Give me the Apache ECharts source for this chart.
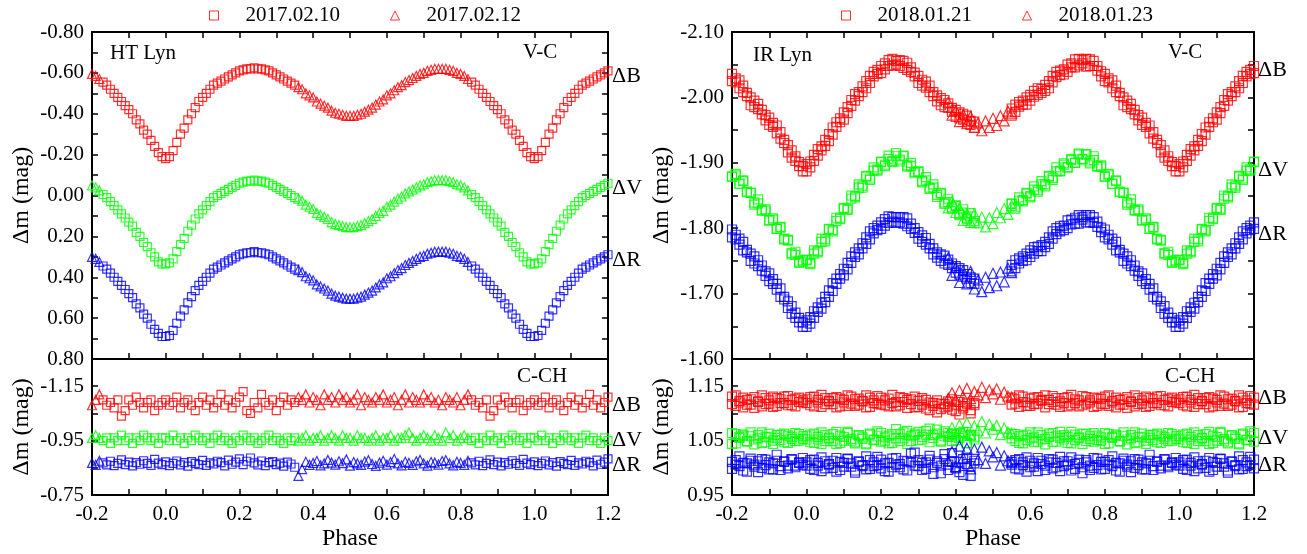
<!DOCTYPE html>
<html>
<head>
<meta charset="utf-8">
<script src="https://cdn.jsdelivr.net/npm/echarts@6/dist/echarts.min.js"></script>
<style>
html,body{margin:0;padding:0;background:#fff;}
#chart{width:1307px;height:554px;}
</style>
</head>
<body>
<div id="chart"></div>
<script>
// ---------------- tick values & labels ----------------
const xTickValues = [-0.2,-0.1,0,0.1,0.2,0.3,0.4,0.5,0.6,0.7,0.8,0.9,1.0,1.1,1.2];
const xLabelValues = [-0.2,0,0.2,0.4,0.6,0.8,1.0,1.2];
const xTickLabels = ['-0.2','0.0','0.2','0.4','0.6','0.8','1.0','1.2'];

const htTopTicks = [-0.8,-0.7,-0.6,-0.5,-0.4,-0.3,-0.2,-0.1,0,0.1,0.2,0.3,0.4,0.5,0.6,0.7,0.8];
const htTopLabelValues = [-0.8,-0.6,-0.4,-0.2,0,0.2,0.4,0.6,0.8];
const htTopLabels = ['-0.80','-0.60','-0.40','-0.20','0.00','0.20','0.40','0.60','0.80'];
const htBotTicks = [-1.25,-1.15,-1.05,-0.95,-0.85,-0.75];
const htBotLabelValues = [-1.15,-0.95,-0.75];
const htBotLabels = ['-1.15','-0.95','-0.75'];

const irTopTicks = [-2.10,-2.05,-2.00,-1.95,-1.90,-1.85,-1.80,-1.75,-1.70,-1.65,-1.60];
const irTopLabelValues = [-2.10,-2.00,-1.90,-1.80,-1.70,-1.60];
const irTopLabels = ['-2.10','-2.00','-1.90','-1.80','-1.70','-1.60'];
const irBotTicks = [0.95,1.00,1.05,1.10,1.15,1.20];
const irBotLabelValues = [0.95,1.05,1.15];
const irBotLabels = ['0.95','1.05','1.15'];

// ---------------- HT Lyn data ----------------
const htNights = ['2017.02.10','2017.02.12'];
const htPhase1 = [0.83,0.84,0.85,0.86,0.87,0.88,0.89,0.90,0.91,0.92,0.93,0.94,0.95,0.96,0.97,0.98,0.99,
 0.00,0.01,0.02,0.03,0.04,0.05,0.06,0.07,0.08,0.09,0.10,0.11,0.12,0.13,0.14,0.15,0.16,0.17,0.18,0.19,
 0.20,0.21,0.22,0.23,0.24,0.25,0.26,0.27,0.28,0.29,0.30,0.31,0.32,0.33,0.34,0.35];
const htB1 = [-0.555,-0.54,-0.52,-0.50,-0.48,-0.46,-0.44,-0.42,-0.40,-0.37,-0.35,-0.32,-0.30,-0.27,-0.24,-0.21,-0.19,
 -0.18,-0.19,-0.22,-0.26,-0.30,-0.33,-0.37,-0.40,-0.43,-0.46,-0.48,-0.50,-0.52,-0.54,-0.55,-0.56,-0.57,-0.58,-0.59,-0.60,
 -0.61,-0.615,-0.62,-0.62,-0.625,-0.62,-0.62,-0.615,-0.61,-0.60,-0.59,-0.58,-0.57,-0.56,-0.55,-0.54];
const htV1 = [-0.005,0.01,0.03,0.05,0.07,0.09,0.11,0.13,0.15,0.18,0.20,0.23,0.25,0.28,0.30,0.325,0.335,
 0.335,0.33,0.31,0.275,0.24,0.21,0.175,0.145,0.115,0.09,0.07,0.05,0.03,0.01,0.0,-0.01,-0.02,-0.03,-0.04,-0.05,
 -0.06,-0.065,-0.07,-0.07,-0.075,-0.07,-0.07,-0.065,-0.06,-0.05,-0.04,-0.03,-0.02,-0.01,0.0,0.01];
const htR1 = [0.345,0.36,0.38,0.40,0.42,0.44,0.46,0.48,0.50,0.53,0.55,0.58,0.60,0.63,0.655,0.675,0.69,
 0.69,0.685,0.66,0.625,0.59,0.56,0.525,0.495,0.465,0.44,0.42,0.40,0.38,0.36,0.35,0.34,0.33,0.32,0.31,0.30,
 0.29,0.285,0.28,0.28,0.275,0.28,0.28,0.285,0.29,0.30,0.31,0.32,0.33,0.34,0.35,0.36];
const htCB1 = [-1.10,-1.08,-1.09,-1.07,-1.10,-1.04,-1.06,-1.10,-1.08,-1.11,-1.09,-1.07,-1.09,-1.10,-1.06,-1.08,-1.09,
 -1.10,-1.08,-1.09,-1.11,-1.07,-1.09,-1.10,-1.08,-1.06,-1.09,-1.11,-1.08,-1.10,-1.07,-1.09,-1.12,-1.08,-1.10,-1.07,-1.09,
 -1.11,-1.13,-1.06,-1.05,-1.09,-1.07,-1.12,-1.09,-1.08,-1.10,-1.06,-1.09,-1.11,-1.08,-1.10,-1.09];
const htCV1 = [-0.95,-0.96,-0.94,-0.96,-0.95,-0.97,-0.95,-0.96,-0.94,-0.96,-0.95,-0.97,-0.96,-0.95,-0.96,-0.94,-0.96,
 -0.96,-0.95,-0.97,-0.95,-0.96,-0.94,-0.96,-0.95,-0.97,-0.96,-0.95,-0.96,-0.94,-0.96,-0.97,-0.95,-0.96,-0.95,-0.94,-0.96,
 -0.95,-0.97,-0.96,-0.95,-0.96,-0.94,-0.95,-0.96,-0.97,-0.95,-0.96,-0.95,-0.94,-0.96,-0.95,-0.96];
const htCR1 = [-0.868,-0.861,-0.874,-0.858,-0.866,-0.879,-0.862,-0.871,-0.857,-0.869,-0.863,-0.876,-0.866,-0.859,-0.881,-0.867,-0.862,
 -0.872,-0.858,-0.866,-0.875,-0.861,-0.869,-0.856,-0.873,-0.866,-0.862,-0.877,-0.859,-0.868,-0.864,-0.874,-0.869,-0.857,-0.878,-0.863,-0.871,
 -0.883,-0.862,-0.874,-0.886,-0.868,-0.861,-0.875,-0.858,-0.869,-0.873,-0.862,-0.867,-0.856,-0.871,-0.864,-0.852];

const htPhase2 = [0.36,0.37,0.38,0.39,0.40,0.41,0.42,0.43,0.44,0.45,0.46,0.47,0.48,0.49,0.50,0.51,0.52,0.53,0.54,0.55,
 0.56,0.57,0.58,0.59,0.60,0.61,0.62,0.63,0.64,0.65,0.66,0.67,0.68,0.69,0.70,0.71,0.72,0.73,0.74,0.75,0.76,0.77,0.78,0.79,0.80,0.81,0.82];
const htB2 = [-0.53,-0.52,-0.50,-0.49,-0.48,-0.46,-0.45,-0.44,-0.43,-0.415,-0.405,-0.40,-0.395,-0.39,-0.39,-0.39,-0.395,-0.40,-0.41,-0.42,
 -0.43,-0.445,-0.46,-0.47,-0.49,-0.50,-0.515,-0.53,-0.54,-0.555,-0.565,-0.575,-0.585,-0.595,-0.60,-0.61,-0.615,-0.62,-0.62,-0.62,
 -0.62,-0.615,-0.61,-0.60,-0.595,-0.585,-0.57];
const htV2 = [0.015,0.025,0.045,0.055,0.065,0.085,0.095,0.105,0.115,0.13,0.14,0.145,0.15,0.155,0.155,0.155,0.15,0.145,0.135,0.125,
 0.115,0.10,0.085,0.075,0.055,0.045,0.03,0.015,0.005,-0.01,-0.02,-0.03,-0.04,-0.05,-0.055,-0.065,-0.07,-0.075,-0.075,-0.075,
 -0.075,-0.07,-0.065,-0.055,-0.05,-0.04,-0.025];
const htR2 = [0.365,0.375,0.395,0.405,0.415,0.435,0.445,0.455,0.465,0.48,0.49,0.495,0.50,0.505,0.505,0.505,0.50,0.495,0.485,0.475,
 0.465,0.45,0.435,0.425,0.405,0.395,0.38,0.365,0.355,0.34,0.33,0.32,0.31,0.30,0.295,0.285,0.28,0.275,0.275,0.275,
 0.275,0.28,0.285,0.295,0.30,0.31,0.325];
const htCB2 = [-1.11,-1.10,-1.12,-1.09,-1.11,-1.10,-1.08,-1.12,-1.10,-1.11,-1.09,-1.12,-1.10,-1.11,-1.09,-1.10,-1.12,-1.08,-1.11,-1.10,
 -1.09,-1.11,-1.10,-1.12,-1.09,-1.10,-1.11,-1.08,-1.10,-1.12,-1.09,-1.11,-1.10,-1.09,-1.12,-1.10,-1.11,-1.09,-1.10,-1.08,
 -1.11,-1.10,-1.09,-1.11,-1.08,-1.10,-1.12];
const htCV2 = [-0.95,-0.96,-0.97,-0.95,-0.96,-0.96,-0.97,-0.95,-0.96,-0.97,-0.96,-0.95,-0.97,-0.96,-0.96,-0.95,-0.97,-0.96,-0.96,-0.95,
 -0.96,-0.97,-0.95,-0.96,-0.96,-0.97,-0.95,-0.96,-0.96,-0.97,-0.98,-0.96,-0.95,-0.96,-0.97,-0.96,-0.95,-0.97,-0.96,-0.95,
 -0.98,-0.96,-0.97,-0.95,-0.96,-0.97,-0.96];
const htCR2 = [-0.82,-0.845,-0.872,-0.861,-0.868,-0.875,-0.859,-0.866,-0.879,-0.869,-0.862,-0.874,-0.867,-0.881,-0.858,-0.871,-0.866,-0.861,-0.873,-0.878,
 -0.864,-0.857,-0.869,-0.876,-0.862,-0.871,-0.882,-0.866,-0.859,-0.872,-0.868,-0.861,-0.874,-0.879,-0.866,-0.858,-0.871,-0.869,-0.862,-0.875,
 -0.878,-0.866,-0.859,-0.872,-0.868,-0.861,-0.876];

// ---------------- IR Lyn data ----------------
const irNights = ['2018.01.21','2018.01.23'];
const irPhase1 = [0.00,0.01,0.02,0.03,0.04,0.05,0.06,0.07,0.08,0.09,0.10,0.11,0.12,0.13,0.14,0.15,0.16,0.17,0.18,0.19,
 0.20,0.21,0.22,0.23,0.24,0.25,0.26,0.27,0.28,0.29,0.30,0.31,0.32,0.33,0.34,0.35,0.36,0.37,0.38,0.39,0.40,0.41,0.42,0.43,0.44,0.45,
 0.55,0.56,0.57,0.58,0.59,0.60,0.61,0.62,0.63,0.64,0.65,0.66,0.67,0.68,0.69,0.70,0.71,0.72,0.73,0.74,0.75,0.76,0.77,0.78,0.79,
 0.80,0.81,0.82,0.83,0.84,0.85,0.86,0.87,0.88,0.89,0.90,0.91,0.92,0.93,0.94,0.95,0.96,0.97,0.98,0.99];
// first cycle of the night
const irB1 = [-1.887,-1.902,-1.903,-1.921,-1.919,-1.935,-1.933,-1.954,-1.955,-1.968,-1.966,-1.985,-1.987,-2.005,-2.002,-2.017,-2.014,-2.033,-2.032,-2.042,
 -2.037,-2.052,-2.048,-2.059,-2.050,-2.057,-2.045,-2.053,-2.039,-2.038,-2.022,-2.027,-2.015,-2.018,-2.002,-2.003,-1.988,-1.996,-1.984,-1.984,-1.970,-1.977,-1.966,-1.972,-1.958,-1.963,
 -1.972,-1.989,-1.986,-1.995,-1.989,-2.004,-2.001,-2.014,-2.007,-2.019,-2.014,-2.033,-2.031,-2.041,-2.035,-2.050,-2.046,-2.058,-2.049,-2.057,-2.047,-2.058,-2.048,-2.048,-2.032,
 -2.036,-2.023,-2.026,-2.008,-2.007,-1.988,-1.995,-1.982,-1.981,-1.965,-1.969,-1.955,-1.957,-1.937,-1.935,-1.916,-1.919,-1.903,-1.901,-1.887];
const irV1 = [-1.751,-1.745,-1.761,-1.763,-1.784,-1.783,-1.799,-1.795,-1.811,-1.814,-1.830,-1.828,-1.845,-1.847,-1.867,-1.865,-1.880,-1.874,-1.888,-1.888,
 -1.901,-1.895,-1.906,-1.901,-1.915,-1.905,-1.911,-1.894,-1.895,-1.884,-1.886,-1.870,-1.873,-1.860,-1.867,-1.851,-1.854,-1.837,-1.840,-1.830,-1.834,-1.820,-1.824,-1.814,-1.823,-1.811,
 -1.838,-1.830,-1.842,-1.841,-1.853,-1.847,-1.859,-1.856,-1.872,-1.867,-1.880,-1.874,-1.887,-1.887,-1.899,-1.893,-1.904,-1.900,-1.914,-1.905,-1.913,-1.899,-1.904,-1.894,-1.896,
 -1.879,-1.881,-1.868,-1.873,-1.855,-1.854,-1.836,-1.838,-1.827,-1.829,-1.812,-1.813,-1.799,-1.802,-1.783,-1.782,-1.760,-1.759,-1.747,-1.751];
const irR1 = [-1.649,-1.664,-1.663,-1.679,-1.677,-1.695,-1.695,-1.716,-1.715,-1.730,-1.728,-1.747,-1.747,-1.763,-1.760,-1.777,-1.776,-1.795,-1.792,-1.804,
 -1.799,-1.814,-1.808,-1.817,-1.808,-1.817,-1.807,-1.815,-1.799,-1.800,-1.784,-1.789,-1.775,-1.776,-1.760,-1.763,-1.750,-1.758,-1.744,-1.746,-1.732,-1.739,-1.726,-1.730,-1.716,-1.723,
 -1.734,-1.751,-1.746,-1.757,-1.751,-1.766,-1.761,-1.772,-1.765,-1.779,-1.776,-1.795,-1.791,-1.803,-1.797,-1.812,-1.806,-1.816,-1.807,-1.817,-1.809,-1.820,-1.808,-1.810,-1.794,
 -1.798,-1.783,-1.784,-1.766,-1.767,-1.750,-1.757,-1.742,-1.743,-1.727,-1.731,-1.715,-1.715,-1.695,-1.695,-1.678,-1.681,-1.663,-1.663,-1.649];
// second cycle of the night
const irB1b = [-1.898,-1.893,-1.912,-1.911,-1.925,-1.926,-1.944,-1.943,-1.962,-1.962,-1.977,-1.976,-1.996,-1.995,-2.008,-2.008,-2.025,-2.022,-2.039,-2.036,
 -2.048,-2.043,-2.057,-2.049,-2.056,-2.048,-2.056,-2.042,-2.046,-2.032,-2.033,-2.018,-2.024,-2.008,-2.008,-1.994,-1.999,-1.985,-1.991,-1.978,-1.981,-1.968,-1.975,-1.962,-1.964,-1.954,
 -1.983,-1.978,-1.993,-1.989,-2.000,-1.995,-2.010,-2.004,-2.013,-2.010,-2.025,-2.023,-2.039,-2.034,-2.043,-2.039,-2.052,-2.046,-2.059,-2.052,-2.059,-2.048,-2.056,-2.041,-2.040,
 -2.025,-2.029,-2.014,-2.018,-2.002,-2.000,-1.985,-1.990,-1.974,-1.973,-1.958,-1.961,-1.945,-1.947,-1.930,-1.927,-1.908,-1.910,-1.895,-1.895];
const irV1b = [-1.752,-1.747,-1.766,-1.765,-1.779,-1.780,-1.798,-1.797,-1.816,-1.816,-1.831,-1.830,-1.850,-1.849,-1.862,-1.862,-1.879,-1.876,-1.893,-1.890,
 -1.902,-1.897,-1.911,-1.903,-1.910,-1.902,-1.910,-1.896,-1.900,-1.886,-1.887,-1.872,-1.878,-1.862,-1.862,-1.848,-1.853,-1.839,-1.845,-1.832,-1.835,-1.822,-1.829,-1.816,-1.818,-1.808,
 -1.837,-1.832,-1.847,-1.843,-1.854,-1.849,-1.864,-1.858,-1.867,-1.864,-1.879,-1.877,-1.893,-1.888,-1.897,-1.893,-1.906,-1.900,-1.913,-1.906,-1.913,-1.902,-1.910,-1.895,-1.894,
 -1.879,-1.883,-1.868,-1.872,-1.856,-1.854,-1.839,-1.844,-1.828,-1.827,-1.812,-1.815,-1.799,-1.801,-1.784,-1.781,-1.762,-1.764,-1.749,-1.749];
const irR1b = [-1.659,-1.654,-1.673,-1.672,-1.686,-1.687,-1.705,-1.704,-1.723,-1.723,-1.738,-1.737,-1.757,-1.756,-1.769,-1.769,-1.786,-1.783,-1.800,-1.797,
 -1.809,-1.804,-1.818,-1.810,-1.817,-1.809,-1.817,-1.803,-1.807,-1.793,-1.794,-1.779,-1.785,-1.769,-1.769,-1.755,-1.760,-1.746,-1.752,-1.739,-1.742,-1.729,-1.736,-1.723,-1.725,-1.715,
 -1.744,-1.739,-1.754,-1.750,-1.761,-1.756,-1.771,-1.765,-1.774,-1.771,-1.786,-1.784,-1.800,-1.795,-1.804,-1.800,-1.813,-1.807,-1.820,-1.813,-1.820,-1.809,-1.817,-1.802,-1.801,
 -1.786,-1.790,-1.775,-1.779,-1.763,-1.761,-1.746,-1.751,-1.735,-1.734,-1.719,-1.722,-1.706,-1.708,-1.691,-1.688,-1.669,-1.671,-1.656,-1.656];
const irCB1 = [1.126,1.115,1.131,1.120,1.112,1.128,1.123,1.117,1.130,1.113,1.125,1.133,1.118,1.114,1.127,1.122,1.111,1.129,1.119,1.132,
 1.116,1.124,1.113,1.134,1.121,1.115,1.128,1.110,1.126,1.131,1.112,1.116,1.125,1.106,1.119,1.124,1.108,1.117,1.113,1.126,1.104,1.121,1.109,1.118,1.100,1.115,
 1.129,1.118,1.133,1.121,1.114,1.127,1.117,1.130,1.123,1.111,1.125,1.132,1.116,1.122,1.128,1.113,1.134,1.119,1.124,1.115,1.130,1.120,1.112,1.127,1.118,
 1.131,1.114,1.123,1.129,1.116,1.126,1.110,1.121,1.133,1.117,1.124,1.112,1.128,1.119,1.131,1.115,1.125,1.113,1.129,1.120];
const irCV1 = [1.058,1.047,1.063,1.052,1.044,1.060,1.055,1.049,1.066,1.046,1.057,1.064,1.050,1.045,1.059,1.053,1.043,1.061,1.051,1.067,
 1.048,1.056,1.045,1.062,1.054,1.049,1.065,1.044,1.058,1.063,1.051,1.057,1.068,1.047,1.060,1.070,1.050,1.058,1.064,1.049,1.061,1.055,1.066,1.046,1.059,1.052,
 1.063,1.049,1.058,1.045,1.061,1.054,1.047,1.065,1.052,1.043,1.057,1.064,1.048,1.055,1.060,1.046,1.066,1.051,1.056,1.044,1.062,1.053,1.048,1.059,1.050,
 1.064,1.045,1.057,1.061,1.049,1.058,1.043,1.054,1.065,1.047,1.056,1.044,1.060,1.051,1.063,1.046,1.057,1.049,1.062,1.053];
const irCR1 = [1.010,0.998,1.015,1.004,0.994,1.012,1.007,1.000,1.018,0.996,1.009,1.016,1.002,0.991,1.011,1.005,0.997,1.014,1.003,1.020,
 0.999,1.008,0.993,1.017,1.006,1.001,1.013,0.995,1.010,1.028,1.003,1.009,0.998,1.015,0.989,1.012,1.004,1.025,0.996,1.011,1.001,0.992,1.016,1.007,0.985,1.013,
 1.011,0.999,1.016,1.005,0.993,1.013,1.002,1.018,1.007,0.996,1.010,1.015,1.001,0.994,1.012,1.006,1.019,0.998,1.009,0.990,1.014,1.004,1.000,1.017,0.997,
 1.011,1.006,1.021,0.995,1.008,1.013,1.002,0.992,1.016,1.005,1.010,0.997,1.024,1.003,1.012,0.999,1.015,1.004,1.009,1.018];
const irCB1b = [1.119,1.130,1.113,1.125,1.134,1.117,1.122,1.128,1.111,1.127,1.120,1.114,1.131,1.126,1.116,1.123,1.133,1.112,1.124,1.118,
 1.129,1.115,1.127,1.119,1.113,1.130,1.121,1.125,1.117,1.111,1.123,1.128,1.109,1.120,1.114,1.102,1.118,1.111,1.122,1.107,1.116,1.098,1.113,1.120,1.106,1.119,
 1.116,1.126,1.112,1.131,1.120,1.114,1.129,1.118,1.125,1.133,1.117,1.121,1.128,1.112,1.119,1.130,1.115,1.126,1.113,1.132,1.118,1.124,1.129,1.114,1.127,
 1.117,1.133,1.120,1.111,1.125,1.116,1.130,1.122,1.113,1.128,1.118,1.131,1.114,1.126,1.119,1.132,1.115,1.127,1.121,1.124];
const irCV1b = [1.052,1.061,1.046,1.057,1.065,1.049,1.054,1.062,1.044,1.059,1.050,1.066,1.053,1.047,1.060,1.056,1.045,1.063,1.052,1.058,
 1.064,1.050,1.059,1.046,1.071,1.062,1.054,1.068,1.049,1.060,1.066,1.052,1.061,1.072,1.055,1.063,1.048,1.067,1.057,1.062,1.051,1.064,1.058,1.045,1.061,1.056,
 1.054,1.062,1.046,1.059,1.051,1.065,1.056,1.048,1.060,1.053,1.063,1.047,1.058,1.066,1.052,1.057,1.045,1.061,1.054,1.063,1.049,1.058,1.064,1.051,1.056,
 1.044,1.062,1.055,1.059,1.048,1.065,1.052,1.060,1.046,1.057,1.063,1.050,1.055,1.061,1.047,1.059,1.053,1.064,1.050,1.058];
const irCR1b = [1.004,1.014,0.996,1.009,1.019,0.999,1.006,1.013,0.993,1.011,1.002,1.017,1.008,0.995,1.012,1.003,1.021,0.998,1.010,1.005,
 1.015,0.994,1.009,1.001,1.018,1.007,0.997,1.012,1.026,1.004,1.014,0.996,1.010,1.022,1.001,1.009,0.990,1.016,1.006,1.027,0.999,1.011,0.987,1.017,1.003,1.008,
 1.006,1.014,0.997,1.010,1.019,1.001,1.008,0.994,1.013,1.004,1.016,0.999,1.009,1.020,1.003,1.012,0.995,1.007,1.015,1.001,1.010,0.996,1.018,1.005,1.011,
 0.998,1.014,1.003,1.009,0.993,1.017,1.006,1.012,1.000,1.015,0.997,1.008,1.013,0.996,1.011,1.004,1.016,1.001,1.010,1.006];

const irPhase2 = [0.38,0.39,0.40,0.41,0.42,0.43,0.44,0.45,0.46,0.47,0.48,0.49,0.50,0.51,0.52,0.53,0.54,0.55];
const irB2 = [-1.993,-1.973,-1.980,-1.963,-1.974,-1.960,-1.971,-1.954,-1.961,-1.949,-1.964,-1.954,-1.968,-1.957,-1.972,-1.964,-1.979,-1.976];
const irV2 = [-1.831,-1.841,-1.824,-1.831,-1.812,-1.822,-1.809,-1.822,-1.808,-1.817,-1.802,-1.816,-1.807,-1.824,-1.816,-1.830,-1.821,-1.835];
const irR2 = [-1.755,-1.728,-1.740,-1.717,-1.735,-1.715,-1.734,-1.707,-1.721,-1.703,-1.725,-1.709,-1.731,-1.712,-1.733,-1.718,-1.739,-1.732];
const irCB2 = [1.128,1.138,1.125,1.142,1.131,1.146,1.127,1.140,1.134,1.148,1.129,1.143,1.136,1.145,1.126,1.139,1.132,1.130];
const irCV2 = [1.062,1.074,1.058,1.079,1.066,1.083,1.060,1.077,1.069,1.085,1.064,1.080,1.071,1.078,1.061,1.073,1.066,1.063];
const irCR2 = [1.012,1.030,1.002,1.040,1.018,1.036,0.998,1.034,1.015,1.038,1.008,1.031,1.020,1.028,1.005,1.022,1.013,1.010];

// ---------------- chart construction ----------------
const FONT = 'Liberation Serif';
const COL = {B:'#ff0000', V:'#00ff00', R:'#0000ff'};

function fold(ph, val) {
  const out = [];
  for (let i = 0; i < ph.length; i++) {
    const p = ph[i], v = val[i];
    out.push([p, v]);
    if (p >= 0.8) out.push([Math.round((p - 1) * 1000) / 1000, v]);
    if (p <= 0.2) out.push([Math.round((p + 1) * 1000) / 1000, v]);
  }
  return out;
}
function fmt(vals, labels) {
  return function (v) {
    const i = vals.findIndex(function (x) { return Math.abs(x - v) < 1e-6; });
    return i >= 0 ? labels[i] : '';
  };
}
const axisLineStyle = {show: true, onZero: false, lineStyle: {color: '#000', width: 2}};
function tickStyle(vals) {
  return {show: true, inside: true, length: 6, lineStyle: {color: '#000', width: 1.5}, customValues: vals};
}
const labelBase = {color: '#000', fontFamily: FONT, fontSize: 21};

const grids = [
  {left: 92, top: 32, width: 516, height: 327},
  {left: 92, top: 359, width: 516, height: 136},
  {left: 732, top: 32, width: 522, height: 327},
  {left: 732, top: 359, width: 522, height: 136}
];
const xAxes = [], yAxes = [];
function addX(gi, position, withLabels, name) {
  const ax = {type: 'value', gridIndex: gi, position: position, min: -0.2, max: 1.2,
    axisLine: axisLineStyle, axisTick: tickStyle(xTickValues), splitLine: {show: false},
    axisLabel: {show: false}};
  if (withLabels) {
    ax.axisLabel = Object.assign({show: true, margin: 9, customValues: xLabelValues,
      formatter: fmt(xLabelValues, xTickLabels)}, labelBase);
    ax.name = name; ax.nameLocation = 'middle'; ax.nameGap = 32;
    ax.nameTextStyle = {color: '#000', fontFamily: FONT, fontSize: 24};
  }
  xAxes.push(ax);
  return xAxes.length - 1;
}
function addY(gi, position, min, max, inverse, ticks, labVals, labs, name) {
  const ax = {type: 'value', gridIndex: gi, position: position, min: min, max: max, inverse: inverse,
    axisLine: axisLineStyle, axisTick: tickStyle(ticks), splitLine: {show: false}, axisLabel: {show: false}};
  if (labVals) {
    ax.axisLabel = Object.assign({show: true, margin: 8, customValues: labVals, formatter: fmt(labVals, labs)}, labelBase);
    ax.name = name; ax.nameLocation = 'middle'; ax.nameRotate = 90; ax.nameGap = 58;
    ax.nameTextStyle = {color: '#000', fontFamily: FONT, fontSize: 24};
  }
  yAxes.push(ax);
  return yAxes.length - 1;
}

// HT top
const x0 = addX(0, 'bottom', false); addX(0, 'top', false);
const y0 = addY(0, 'left', -0.8, 0.8, true, htTopTicks, htTopLabelValues, htTopLabels, 'Δm (mag)');
addY(0, 'right', -0.8, 0.8, true, htTopTicks);
// HT bottom
const x1 = addX(1, 'bottom', true, 'Phase');
const y1 = addY(1, 'left', -1.25, -0.75, true, htBotTicks, htBotLabelValues, htBotLabels, 'Δm (mag)');
addY(1, 'right', -1.25, -0.75, true, htBotTicks);
// IR top
const x2 = addX(2, 'bottom', false); addX(2, 'top', false);
const y2 = addY(2, 'left', -2.10, -1.60, true, irTopTicks, irTopLabelValues, irTopLabels, 'Δm (mag)');
addY(2, 'right', -2.10, -1.60, true, irTopTicks);
// IR bottom
const x3 = addX(3, 'bottom', true, 'Phase');
const y3 = addY(3, 'left', 0.95, 1.20, false, irBotTicks, irBotLabelValues, irBotLabels, 'Δm (mag)');
addY(3, 'right', 0.95, 1.20, false, irBotTicks);

const series = [];
function addS(name, xi, yi, symbol, size, color, ph, vals) {
  series.push({type: 'scatter', name: name, xAxisIndex: xi, yAxisIndex: yi, symbol: symbol, symbolSize: size,
    silent: true, animation: false,
    itemStyle: {color: 'rgba(0,0,0,0)', borderColor: color, borderWidth: 1.2},
    data: fold(ph, vals)});
}
// HT Lyn
addS(htNights[0], x0, y0, 'rect', 8, COL.B, htPhase1, htB1);
addS(htNights[0], x0, y0, 'rect', 8, COL.V, htPhase1, htV1);
addS(htNights[0], x0, y0, 'rect', 8, COL.R, htPhase1, htR1);
addS(htNights[1], x0, y0, 'triangle', 9, COL.B, htPhase2, htB2);
addS(htNights[1], x0, y0, 'triangle', 9, COL.V, htPhase2, htV2);
addS(htNights[1], x0, y0, 'triangle', 9, COL.R, htPhase2, htR2);
addS(htNights[0], x1, y1, 'rect', 8, COL.B, htPhase1, htCB1);
addS(htNights[0], x1, y1, 'rect', 8, COL.V, htPhase1, htCV1);
addS(htNights[0], x1, y1, 'rect', 8, COL.R, htPhase1, htCR1);
addS(htNights[1], x1, y1, 'triangle', 9, COL.B, htPhase2, htCB2);
addS(htNights[1], x1, y1, 'triangle', 9, COL.V, htPhase2, htCV2);
addS(htNights[1], x1, y1, 'triangle', 9, COL.R, htPhase2, htCR2);
// IR Lyn
addS(irNights[0], x2, y2, 'rect', 9, COL.B, irPhase1, irB1);
addS(irNights[0], x2, y2, 'rect', 9, COL.B, irPhase1, irB1b);
addS(irNights[0], x2, y2, 'rect', 9, COL.V, irPhase1, irV1);
addS(irNights[0], x2, y2, 'rect', 9, COL.V, irPhase1, irV1b);
addS(irNights[0], x2, y2, 'rect', 9, COL.R, irPhase1, irR1);
addS(irNights[0], x2, y2, 'rect', 9, COL.R, irPhase1, irR1b);
addS(irNights[1], x2, y2, 'triangle', 10, COL.B, irPhase2, irB2);
addS(irNights[1], x2, y2, 'triangle', 10, COL.V, irPhase2, irV2);
addS(irNights[1], x2, y2, 'triangle', 10, COL.R, irPhase2, irR2);
addS(irNights[0], x3, y3, 'rect', 9, COL.B, irPhase1, irCB1);
addS(irNights[0], x3, y3, 'rect', 9, COL.B, irPhase1, irCB1b);
addS(irNights[0], x3, y3, 'rect', 9, COL.V, irPhase1, irCV1);
addS(irNights[0], x3, y3, 'rect', 9, COL.V, irPhase1, irCV1b);
addS(irNights[0], x3, y3, 'rect', 9, COL.R, irPhase1, irCR1);
addS(irNights[0], x3, y3, 'rect', 9, COL.R, irPhase1, irCR1b);
addS(irNights[1], x3, y3, 'triangle', 10, COL.B, irPhase2, irCB2);
addS(irNights[1], x3, y3, 'triangle', 10, COL.V, irPhase2, irCV2);
addS(irNights[1], x3, y3, 'triangle', 10, COL.R, irPhase2, irCR2);

function legendFor(names, left) {
  return {left: left, top: 0, itemWidth: 9, itemHeight: 9, itemGap: 50, selectedMode: false,
    textStyle: {color: '#000', fontFamily: FONT, fontSize: 21, padding: [0, 0, 0, 22]},
    data: [
      {name: names[0], icon: 'rect', itemStyle: {color: 'rgba(0,0,0,0)', borderColor: COL.B, borderWidth: 1}},
      {name: names[1], icon: 'triangle', itemStyle: {color: 'rgba(0,0,0,0)', borderColor: COL.B, borderWidth: 1}}
    ]};
}

function txt(s, x, y, size) {
  return {type: 'text', x: x, y: y, silent: true,
    style: {text: s, font: (size || 21) + 'px "' + FONT + '"', fill: '#000', textAlign: 'left', textVerticalAlign: 'middle'}};
}
const graphics = [
  txt('HT Lyn', 110, 53), txt('V-C', 523, 52), txt('C-CH', 517, 376),
  txt('ΔB', 612, 76, 22), txt('ΔV', 612, 188, 22), txt('ΔR', 612, 260, 22),
  txt('ΔB', 612, 405, 22), txt('ΔV', 612, 440, 22), txt('ΔR', 612, 465, 22),
  txt('IR Lyn', 753, 55), txt('V-C', 1168, 52), txt('C-CH', 1165, 376),
  txt('ΔB', 1258, 70, 22), txt('ΔV', 1258, 170, 22), txt('ΔR', 1258, 234, 22),
  txt('ΔB', 1258, 398, 22), txt('ΔV', 1258, 438, 22), txt('ΔR', 1258, 465, 22)
];

const chart = echarts.init(document.getElementById('chart'), null, {renderer: 'canvas'});
chart.setOption({
  animation: false,
  backgroundColor: '#fff',
  grid: grids,
  xAxis: xAxes,
  yAxis: yAxes,
  legend: [legendFor(htNights, 204), legendFor(irNights, 836)],
  graphic: graphics,
  series: series
});
</script>
</body>
</html>
